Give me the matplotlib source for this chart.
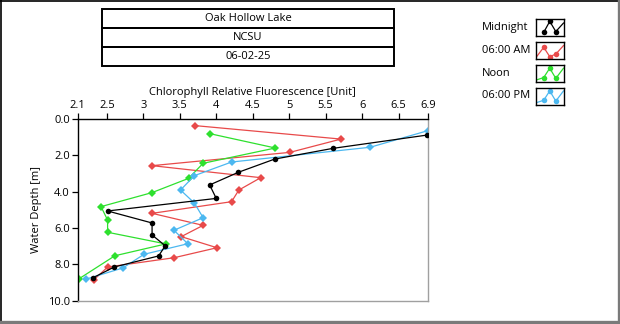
import matplotlib
matplotlib.use("Agg")
import matplotlib.pyplot as plt
from matplotlib.lines import Line2D
from matplotlib.patches import Rectangle

plt.rcParams['font.family'] = ['Open Sans', 'DejaVu Sans']

# ---- data ----
title_lines = ["Oak Hollow Lake", "NCSU", "06-02-25"]
series_names = ["Midnight", "06:00 AM", "Noon", "06:00 PM"]
series_colors = ["#000000", "#e84a4a", "#2ee02e", "#4cb8f0"]

midnight_x = [6.89, 5.60, 4.80, 4.30, 3.91, 4.00, 2.51, 3.12, 3.12, 3.30, 3.21, 2.60, 2.31]
midnight_y = [0.90, 1.63, 2.22, 2.95, 3.64, 4.38, 5.07, 5.73, 6.39, 6.98, 7.54, 8.15, 8.74]

am_x = [3.71, 5.71, 5.01, 3.12, 4.61, 4.31, 4.21, 3.12, 3.82, 3.52, 4.01, 3.42, 2.51, 2.32]
am_y = [0.38, 1.12, 1.85, 2.58, 3.24, 3.92, 4.56, 5.20, 5.86, 6.48, 7.09, 7.64, 8.15, 8.86]

noon_x = [3.91, 4.81, 3.82, 3.62, 3.12, 2.42, 2.51, 2.51, 3.31, 2.61, 2.12]
noon_y = [0.82, 1.61, 2.45, 3.28, 4.06, 4.83, 5.57, 6.24, 6.88, 7.53, 8.79]

pm_x = [6.90, 6.11, 4.21, 3.70, 3.51, 3.70, 3.82, 3.42, 3.61, 3.01, 2.72, 2.21]
pm_y = [0.66, 1.57, 2.38, 3.13, 3.92, 4.63, 5.44, 6.13, 6.87, 7.45, 8.20, 8.82]

x_ticks = [2.1, 2.5, 3, 3.5, 4, 4.5, 5, 5.5, 6, 6.5, 6.9]
x_tick_labels = ["2.1", "2.5", "3", "3.5", "4", "4.5", "5", "5.5", "6", "6.5", "6.9"]
y_ticks = [0, 2, 4, 6, 8, 10]
y_tick_labels = ["0.0", "2.0", "4.0", "6.0", "8.0", "10.0"]

series_x = [midnight_x, am_x, noon_x, pm_x]
series_y = [midnight_y, am_y, noon_y, pm_y]
markers = ['o', 'D', 'D', 'D']

W, H = 620, 324
fig = plt.figure(figsize=(W / 100, H / 100), dpi=100)

def fx(px):
    return px / W

def fy(py):
    return 1 - py / H

# ---- main axes ----
ax = fig.add_axes([fx(77.7), fy(300.7), fx(427.7) - fx(77.7), fy(118.7) - fy(300.7)])
for xs, ys, c, m in zip(series_x, series_y, series_colors, markers):
    ax.plot(xs, ys, color=c, lw=0.9, marker=m, markersize=4 if m == 'o' else 3.6,
            markeredgewidth=0, zorder=3 if c == "#000000" else 2)

ax.set_xlim(2.1, 6.9)
ax.set_ylim(10, 0)
ax.xaxis.tick_top()
ax.xaxis.set_label_position('top')
ax.set_xticks(x_ticks)
ax.set_xticklabels(x_tick_labels)
ax.set_yticks(y_ticks)
ax.set_yticklabels(y_tick_labels)
ax.tick_params(axis='both', direction='out', length=4, width=0.9, labelsize=8, pad=1.5)
ax.set_xlabel("Chlorophyll Relative Fluorescence [Unit]", fontsize=8, labelpad=4)
ax.set_ylabel("Water Depth [m]", fontsize=8, labelpad=4)
ax.spines['top'].set_color('black')
ax.spines['left'].set_color('black')
ax.spines['right'].set_color('#a0a0a0')
ax.spines['bottom'].set_color('#a0a0a0')
for s in ax.spines.values():
    s.set_linewidth(1.0)

# ---- title boxes ----
box_left, box_right = 102, 394
row_edges = [9, 27.5, 47, 65.5]
for i, txt in enumerate(title_lines):
    top, bot = row_edges[i], row_edges[i + 1]
    fig.add_artist(Rectangle((fx(box_left), fy(bot)), fx(box_right) - fx(box_left),
                             fy(top) - fy(bot), transform=fig.transFigure,
                             fill=False, edgecolor='black', lw=1.4))
    fig.text(fx((box_left + box_right) / 2), fy((top + bot) / 2), txt,
             ha='center', va='center', fontsize=8)

# ---- legend ----
leg_rows = [27.3, 50.7, 73.3, 96.0]
zig_x = [0.0, 0.28, 0.5, 0.72, 1.0]
zig_y = [[0.15, 0.2, 0.85, 0.2, 0.6], [0.1, 0.75, 0.25, 0.2, 0.8],
         [0.1, 0.3, 0.75, 0.25, 0.85], [0.1, 0.3, 0.75, 0.2, 0.85]]
zig_y = [[0.1, 0.2, 0.85, 0.25, 0.75], [0.1, 0.7, 0.15, 0.3, 0.8],
         [0.1, 0.25, 0.8, 0.2, 0.8], [0.1, 0.25, 0.8, 0.2, 0.8]]
for i, (name, c) in enumerate(zip(series_names, series_colors)):
    yc = leg_rows[i]
    fig.text(fx(482), fy(yc), name, ha='left', va='center', fontsize=8)
    lax = fig.add_axes([fx(536), fy(yc + 8.5), fx(563.5) - fx(536), fy(yc - 8.5) - fy(yc + 8.5)])
    lax.set_xlim(0, 1)
    lax.set_ylim(0, 1)
    lax.set_xticks([])
    lax.set_yticks([])
    for s in lax.spines.values():
        s.set_linewidth(1.0)
    lax.plot(zig_x[1:] if i == 0 else zig_x, zig_y[i][1:] if i == 0 else zig_y[i],
             color=c, lw=0.9)
    lax.plot(zig_x[1:4], zig_y[i][1:4], color=c, lw=0, marker='o', markersize=4,
             markeredgewidth=0)

# ---- outer frame ----
fig.add_artist(Line2D([fx(1), fx(1)], [fy(0), fy(321)], transform=fig.transFigure, color='black', lw=1.2))
fig.add_artist(Line2D([fx(0), fx(618)], [fy(1), fy(1)], transform=fig.transFigure, color='black', lw=1.2))
fig.add_artist(Line2D([fx(618.5), fx(618.5)], [fy(0), fy(324)], transform=fig.transFigure, color='#7a7a7a', lw=2.4))
fig.add_artist(Line2D([fx(0), fx(620)], [fy(322.2), fy(322.2)], transform=fig.transFigure, color='#7a7a7a', lw=2.4))

fig.savefig("out.png", dpi=100)
